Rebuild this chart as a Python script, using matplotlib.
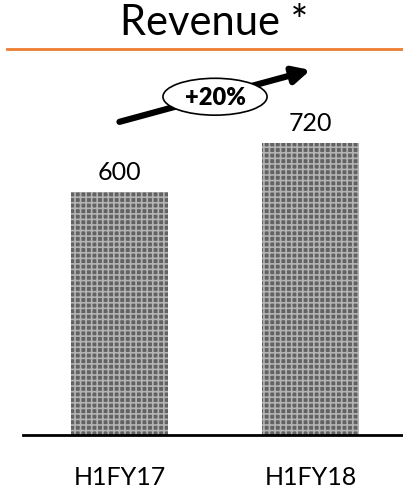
import matplotlib
matplotlib.use("Agg")
import matplotlib.pyplot as plt
from matplotlib.patches import Ellipse
from matplotlib.lines import Line2D

categories = ["H1FY17", "H1FY18"]
values = [600, 720]
growth_label = "+20%"
title = "Revenue *"

plt.rcParams['font.family'] = ['Lato', 'DejaVu Sans']
plt.rcParams['hatch.linewidth'] = 1.2

fig = plt.figure(figsize=(4.03, 4.98), dpi=100)
ax = fig.add_axes([23/403, 63/498, 380/403, 380/498])

x = list(range(len(categories)))
bars = ax.bar(x, values, width=0.508, color='#626262', edgecolor='#b4b4b4',
              hatch='+++', linewidth=0)

ax.set_xlim(-0.505, 1.484)
ax.set_ylim(0, 938)
for s in ['top', 'right', 'left']:
    ax.spines[s].set_visible(False)
ax.spines['bottom'].set_linewidth(2)
ax.spines['bottom'].set_color('black')
ax.set_yticks([])
ax.set_xticks(x)
ax.set_xticklabels(categories, fontsize=18)
ax.tick_params(axis='x', length=0, pad=22)

for xi, v in zip(x, values):
    ax.text(xi, v + 20, str(v), ha='center', va='bottom', fontsize=18)

# growth arrow
ax.annotate('', xy=(1.0, 901), xytext=(0.0, 773),
            arrowprops=dict(arrowstyle='-|>,head_length=1.0,head_width=0.5',
                            color='black', lw=4.5, shrinkA=0, shrinkB=0))
ell = Ellipse((0.5, 835), width=0.545, height=91, facecolor='white',
              edgecolor='black', linewidth=1.2, zorder=5)
ax.add_patch(ell)
ax.text(0.5, 833, growth_label, ha='center', va='center', fontsize=17,
        fontweight='heavy', zorder=6)

fig.text(214/403, 1 - 23/498, title, ha='center', va='center', fontsize=30)
fig.add_artist(Line2D([7/403, 1.0], [1 - 49/498, 1 - 49/498], color='#ED7D31', lw=2))

fig.savefig('out.png', dpi=100)
